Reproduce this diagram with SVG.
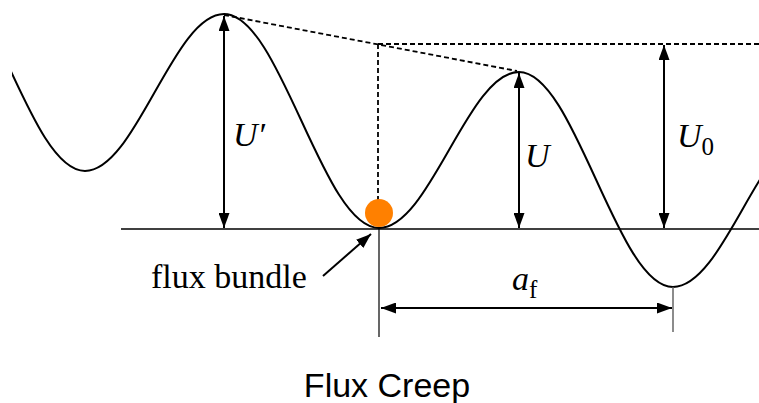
<svg xmlns="http://www.w3.org/2000/svg" width="759" height="403" viewBox="0 0 759 403">
<style>
.curve{fill:none;stroke:#000;stroke-width:2}
.dash{fill:none;stroke:#000;stroke-width:1.8;stroke-dasharray:5 3}
.dim{fill:none;stroke:#000;stroke-width:2}
.thin{fill:none;stroke:#000;stroke-width:1.2}
.lbl{font-family:"Liberation Serif","Times New Roman",serif;font-style:italic;font-size:34px;fill:#000}
.sub{font-family:"Liberation Serif","Times New Roman",serif;font-style:normal;font-size:25px;fill:#000}
.txt{font-family:"Liberation Serif","Times New Roman",serif;font-size:34px;fill:#000}
.title{font-family:"Liberation Sans",Arial,sans-serif;font-size:34px;fill:#000}
</style>
<defs>
<marker id="ah" viewBox="0 0 15 11" refX="15" refY="5.5" markerWidth="15" markerHeight="11" markerUnits="userSpaceOnUse" orient="auto-start-reverse">
<path d="M0,0 L15,5.5 L0,11 Z" fill="#000"/>
</marker>
<clipPath id="clip"><rect x="12" y="0" width="747" height="403"/></clipPath>
</defs>
<rect width="759" height="403" fill="#fff"/>
<g id="potential">
<path class="curve" clip-path="url(#clip)" d="M-70,-43 C-13.5,-43 28.5,171 85,171 C135.6,171 173.4,14 224,14 C280.5,14 322.5,228 379,228 C430,228 468,72 519,72 C575,72 617,287 673,287 C724,287 762,130 813,130"/>
</g>
<g id="baseline">
<line x1="121" y1="229" x2="759" y2="229" stroke="#000" stroke-width="1.6"/>
</g>
<g id="guides">
<line class="dash" x1="224" y1="15" x2="517" y2="71"/>
<line class="dash" x1="378" y1="44" x2="759" y2="44"/>
<line class="dash" x1="378" y1="44" x2="378" y2="200"/>
</g>
<g id="flux-bundle">
<circle cx="379" cy="213" r="14" fill="#FF8000"/>
</g>
<g id="connectors">
<line class="dim" x1="224" y1="16" x2="224" y2="228" marker-start="url(#ah)" marker-end="url(#ah)"/>
<line class="dim" x1="519" y1="73" x2="519" y2="228" marker-start="url(#ah)" marker-end="url(#ah)"/>
<line class="dim" x1="664" y1="45" x2="664" y2="228" marker-start="url(#ah)" marker-end="url(#ah)"/>
<line class="thin" x1="379" y1="229" x2="379" y2="337"/>
<line x1="673" y1="287" x2="673" y2="332" stroke="#666" stroke-width="1.5"/>
<line class="dim" x1="381" y1="308" x2="672" y2="308" marker-start="url(#ah)" marker-end="url(#ah)"/>
<line class="dim" x1="323" y1="276" x2="371" y2="234" marker-end="url(#ah)"/>
</g>
<g id="labels">
<text class="lbl" x="233" y="146">U′</text>
<text class="lbl" x="525" y="167">U</text>
<text class="lbl" x="677" y="147">U<tspan class="sub" dy="8">0</tspan></text>
<text class="lbl" x="512" y="290">a<tspan class="sub" dy="8">f</tspan></text>
<text class="txt" x="151" y="288">flux bundle</text>
<text class="title" x="387" y="397" text-anchor="middle">Flux Creep</text>
</g>
</svg>
